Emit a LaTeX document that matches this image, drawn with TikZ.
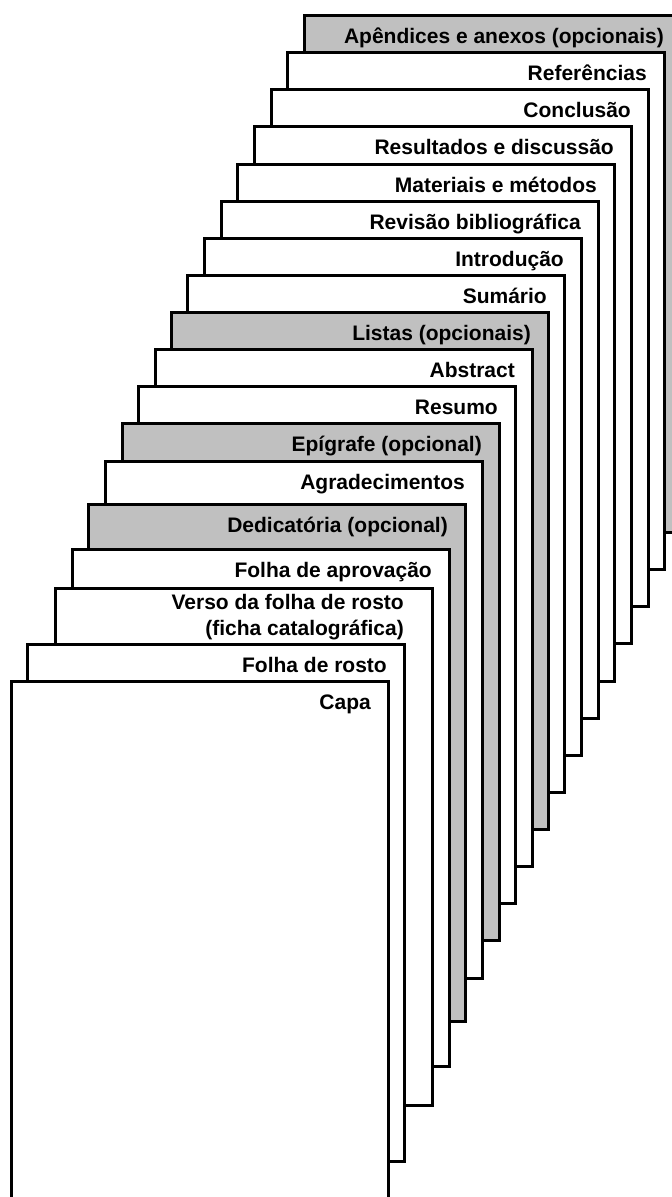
\documentclass[tikz,border=0pt]{standalone}
\usepackage{fontspec}
\setmainfont{Liberation Sans}
\definecolor{pagegray}{RGB}{192,192,192}
\begin{document}
\begin{tikzpicture}[x=1pt,y=-1pt,
  sheet/.style={draw=black, line width=3pt, minimum width=377pt, minimum height=517pt,
    anchor=north west, inner sep=0pt, outer sep=0pt},
  lbl/.style={font=\fontsize{21}{26}\selectfont\bfseries, anchor=base east, inner sep=0pt}]
\useasboundingbox (0,0) rectangle (672,1197);
\clip (0,0) rectangle (672,1197);
\foreach \n/\x/\y/\c/\t in {
  1/304/15/pagegray/{Apêndices e anexos (opcionais)},
  2/287/52/white/{Referências},
  3/271/89/white/{Conclusão},
  4/254/126/white/{Resultados e discussão},
  5/237/164/white/{Materiais e métodos},
  6/221/201/white/{Revisão bibliográfica},
  7/204/238/white/{Introdução},
  8/187/275/white/{Sumário},
  9/171/312/pagegray/{Listas (opcionais)},
  10/155/349/white/{Abstract},
  11/138/386/white/{Resumo},
  12/122/423/pagegray/{Epígrafe (opcional)},
  13/105/461/white/{Agradecimentos},
  14/88/504/pagegray/{Dedicatória (opcional)},
  15/72/549/white/{Folha de aprovação}} {
  \node[sheet, fill=\c] (p\n) at (\x,\y) {};
  \node[lbl] (t\n) at ([xshift=-17pt,yshift=-28pt]p\n.north east) {\t};
}
\node[sheet, fill=white] (p16) at (55,588) {};
\node[lbl] (t16a) at ([xshift=-28pt,yshift=-21pt]p16.north east) {Verso da folha de rosto};
\node[lbl] (t16b) at ([xshift=-28pt,yshift=-47pt]p16.north east) {(ficha catalográfica)};
\node[sheet, fill=white] (p17) at (27,644) {};
\node[lbl] (t17) at ([xshift=-17pt,yshift=-28pt]p17.north east) {Folha de rosto};
\node[sheet, fill=white, minimum height=530pt] (p18) at (11,681) {};
\node[lbl] (t18) at ([xshift=-17pt,yshift=-28pt]p18.north east) {Capa};
\end{tikzpicture}
\end{document}
